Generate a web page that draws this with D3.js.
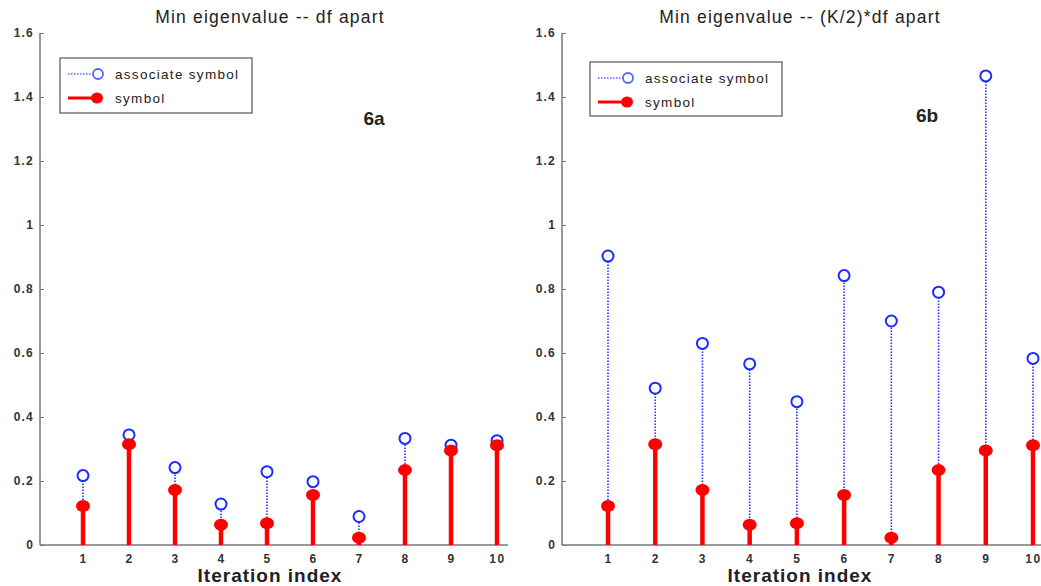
<!DOCTYPE html>
<html><head><meta charset="utf-8">
<script src="https://cdn.jsdelivr.net/npm/d3@7"></script>
<style>body{margin:0;background:#fff;} svg{display:block;}</style>
</head><body>
<svg id="c" width="1041" height="586"></svg>
<script>
const iterations = [1,2,3,4,5,6,7,8,9,10];
const yTicks = [0,0.2,0.4,0.6,0.8,1,1.2,1.4,1.6];
const symbolA = [0.122,0.315,0.172,0.063,0.068,0.156,0.023,0.234,0.295,0.312];
const assocA = [0.217,0.344,0.242,0.128,0.229,0.198,0.089,0.333,0.312,0.326];
const symbolB = [0.122,0.315,0.172,0.063,0.068,0.156,0.023,0.234,0.295,0.312];
const assocB = [0.903,0.490,0.630,0.566,0.448,0.842,0.700,0.790,1.466,0.583];
const titles = ["Min eigenvalue -- df apart","Min eigenvalue -- (K/2)*df apart"];
const tags = ["6a","6b"];
const legendLabels = ["associate symbol","symbol"];
const xLabel = "Iteration index";

const svg = d3.select("#c");
const panels = [
  {axisX:40, axisRight:508, x1:83, x10:497, sym:symbolA, asc:assocA, title:titles[0], titleX:270, labelX:270, tag:tags[0], tagX:374, tagY:125, leg:[60,58,192,55]},
  {axisX:562, axisRight:1041, x1:608, x10:1033, sym:symbolB, asc:assocB, title:titles[1], titleX:800, labelX:800, tag:tags[1], tagX:927, tagY:122, leg:[590,62,192,54]}
];
const y = d3.scaleLinear().domain([0,1.6]).range([545,33]);
const font = "Arial, 'Liberation Sans', sans-serif";

panels.forEach(p => {
  const x = d3.scaleLinear().domain([1,10]).range([p.x1,p.x10]);
  const g = svg.append("g");
  // title
  g.append("text").attr("x",p.titleX).attr("y",23).attr("text-anchor","middle")
    .attr("font-family",font).attr("font-size",17.5).attr("letter-spacing",1.2).attr("fill","#222").text(p.title);
  // y axis
  const ya = g.append("g").attr("transform",`translate(${p.axisX},0)`)
    .call(d3.axisLeft(y).tickValues(yTicks).tickSize(-4).tickPadding(6).tickFormat(d=>d3.format("")(d)));
  ya.select(".domain").attr("stroke","#777").attr("stroke-width",1.5).attr("d",`M0,${y(1.6)}V${y(0)}`);
  ya.selectAll(".tick line").attr("stroke","#777");
  ya.selectAll("text").attr("font-family",font).attr("font-size",12).attr("letter-spacing",1.2).attr("font-weight","bold").attr("fill","#333");
  // x axis
  const xa = g.append("g").attr("transform",`translate(0,${y(0)})`)
    .call(d3.axisBottom(x).tickValues(iterations).tickSize(0).tickPadding(9));
  xa.select(".domain").attr("stroke","#777").attr("stroke-width",1.5).attr("d",`M${p.axisX},0H${p.axisRight}`);
  xa.selectAll("text").attr("font-family",font).attr("font-size",12).attr("letter-spacing",1.5).attr("font-weight","bold").attr("fill","#333");
  g.append("text").attr("x",p.labelX).attr("y",582).attr("text-anchor","middle")
    .attr("font-family",font).attr("font-size",19).attr("letter-spacing",1).attr("font-weight","bold").attr("fill","#222").text(xLabel);
  // blue stems
  g.selectAll(".bstem").data(p.asc).join("line")
    .attr("x1",(d,i)=>x(iterations[i])).attr("x2",(d,i)=>x(iterations[i]))
    .attr("y1",y(0)).attr("y2",d=>y(d))
    .attr("stroke","#2233ff").attr("stroke-width",1.6).attr("stroke-dasharray","1.5,1.5");
  g.selectAll(".bcirc").data(p.asc).join("circle")
    .attr("cx",(d,i)=>x(iterations[i])).attr("cy",d=>y(d)).attr("r",5.5)
    .attr("fill","#fff").attr("stroke","#1a2cff").attr("stroke-width",2);
  // red stems
  g.selectAll(".rstem").data(p.sym).join("line")
    .attr("x1",(d,i)=>x(iterations[i])).attr("x2",(d,i)=>x(iterations[i]))
    .attr("y1",y(0)).attr("y2",d=>y(d))
    .attr("stroke","#ff0000").attr("stroke-width",4.5);
  g.selectAll(".rdot").data(p.sym).join("ellipse")
    .attr("cx",(d,i)=>x(iterations[i])).attr("cy",d=>y(d)).attr("rx",7).attr("ry",6)
    .attr("fill","#ff0000");
  // tag
  g.append("text").attr("x",p.tagX).attr("y",p.tagY).attr("text-anchor","middle")
    .attr("font-family",font).attr("font-size",19).attr("font-weight","bold").attr("fill","#222").text(p.tag);
  // legend
  const [lx,ly,lw,lh] = p.leg;
  const lg = g.append("g");
  lg.append("rect").attr("x",lx).attr("y",ly).attr("width",lw).attr("height",lh)
    .attr("fill","#fff").attr("stroke","#555").attr("stroke-width",1.2);
  lg.append("line").attr("x1",lx+8).attr("x2",lx+37).attr("y1",ly+16).attr("y2",ly+16)
    .attr("stroke","#5566ff").attr("stroke-width",1.5).attr("stroke-dasharray","1.5,1.5");
  lg.append("circle").attr("cx",lx+38).attr("cy",ly+16).attr("r",5).attr("fill","#fff")
    .attr("stroke","#5566ff").attr("stroke-width",1.8);
  lg.append("line").attr("x1",lx+8).attr("x2",lx+37).attr("y1",ly+40).attr("y2",ly+40)
    .attr("stroke","#ff0000").attr("stroke-width",3);
  lg.append("ellipse").attr("cx",lx+37).attr("cy",ly+40).attr("rx",6).attr("ry",5.5).attr("fill","#ff0000");
  lg.append("text").attr("x",lx+55).attr("y",ly+21).attr("font-family",font).attr("font-size",13.5)
    .attr("letter-spacing",1.3).attr("fill","#222").text(legendLabels[0]);
  lg.append("text").attr("x",lx+55).attr("y",ly+45).attr("font-family",font).attr("font-size",13.5)
    .attr("letter-spacing",1.3).attr("fill","#222").text(legendLabels[1]);
});
</script>
</body></html>
